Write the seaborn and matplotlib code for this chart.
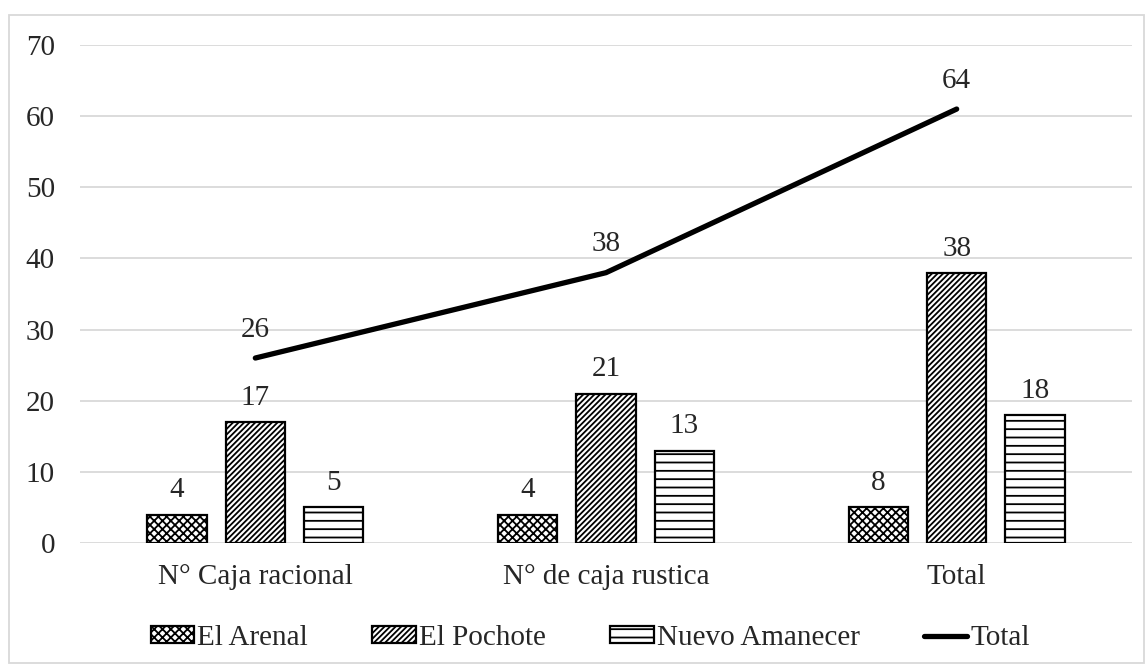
import numpy as np
import pandas as pd
import seaborn as sns
import matplotlib.pyplot as plt
from matplotlib.patches import Rectangle

# Data
categorias = ["N° Caja racional", "N° de caja rustica", "Total"]
comunidades = ["El Arenal", "El Pochote", "Nuevo Amanecer"]
el_arenal = [4, 4, 5]
el_pochote = [17, 21, 38]
nuevo_amanecer = [5, 13, 18]
total_linea = [26, 38, 61]

# Labels as printed on the chart (not always equal to the drawn height)
etiquetas_arenal = ["4", "4", "8"]
etiquetas_pochote = ["17", "21", "38"]
etiquetas_nuevo = ["5", "13", "18"]
etiquetas_total = ["26", "38", "64"]

df = pd.DataFrame({
    "Categoria": categorias * 3,
    "Comunidad": np.repeat(comunidades, len(categorias)),
    "Valor": el_arenal + el_pochote + nuevo_amanecer,
})

# Style
sns.set_style("whitegrid")
plt.rcParams["font.family"] = ["Liberation Serif", "DejaVu Serif"]
plt.rcParams["hatch.linewidth"] = 1.3

fig = plt.figure(figsize=(11.46, 6.66), dpi=100)
ax = fig.add_axes([0.0698, 0.1847, 0.9180, 0.7477])

sns.barplot(
    data=df,
    x="Categoria",
    y="Valor",
    hue="Comunidad",
    order=categorias,
    hue_order=comunidades,
    width=0.67,
    gap=0.24,
    ax=ax,
)

hatches = ["xxxx", "//////", "--"]
labels = [etiquetas_arenal, etiquetas_pochote, etiquetas_nuevo]
for cont, h, lab in zip(ax.containers, hatches, labels):
    for bar in cont:
        bar.set_facecolor("white")
        bar.set_edgecolor("black")
        bar.set_linewidth(1.6)
        bar.set_hatch(h)
    ax.bar_label(cont, labels=lab, padding=8, fontsize=21)

# Total line
x_pos = np.arange(len(categorias))
sns.lineplot(x=x_pos, y=total_linea, color="black", linewidth=3.8, ax=ax)
for x, y, t in zip(x_pos, total_linea, etiquetas_total):
    ax.annotate(t, (x, y), xytext=(0, 11), textcoords="offset points",
                ha="center", va="bottom", fontsize=21)

ax.set_xlim(-0.5, 2.5)
ax.set_ylim(0, 70)
ax.set_yticks(range(0, 71, 10))
ax.set_xticks(x_pos)
ax.set_xticklabels(categorias)
ax.set_xlabel("")
ax.set_ylabel("")
ax.tick_params(axis="y", length=0, pad=18, labelsize=21)
ax.tick_params(axis="x", length=0, pad=15, labelsize=21)
ax.grid(axis="y", color="#d9d9d9", linewidth=1.3)
ax.grid(axis="x", visible=False)
ax.set_axisbelow(True)
for s in ax.spines.values():
    s.set_visible(False)

# Legend
handles = list(ax.containers[:3]) + [ax.lines[-1]]
ax.legend(
    handles,
    comunidades + ["Total"],
    loc="center",
    bbox_to_anchor=(0.515, 0.042),
    bbox_transform=fig.transFigure,
    ncol=4,
    frameon=False,
    fontsize=21,
    handlelength=1.5,
    handleheight=0.5,
    handletextpad=0.1,
    columnspacing=2.2,
)

# Outer chart border
fig.patches.append(Rectangle((0.008, 0.004), 0.99, 0.973, transform=fig.transFigure,
                             fill=False, edgecolor="#d9d9d9", linewidth=1.3))

fig.savefig("out.png", dpi=100)
